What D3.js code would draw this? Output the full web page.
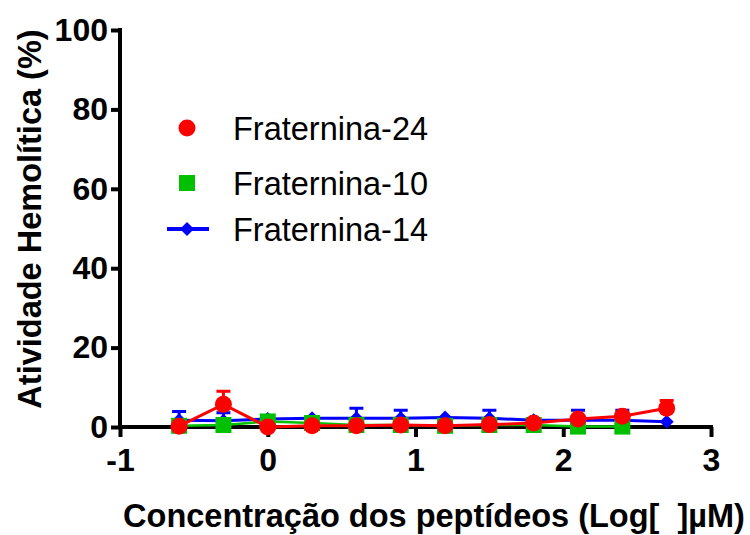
<!DOCTYPE html>
<html>
<head>
<meta charset="utf-8">
<script src="https://cdn.jsdelivr.net/npm/d3@7"></script>
<style>
  body { margin: 0; background: #fff; }
  svg { font-family: "Liberation Sans", Arial, sans-serif; }
</style>
</head>
<body>
<div id="chart"></div>
<script>
// Data (x = log10 concentration)
const doses = [-0.6, -0.3, 0, 0.3, 0.6, 0.9, 1.2, 1.5, 1.8, 2.1, 2.4, 2.7];

const frat24 = [0.2, 5.7, 0, 0.3, 0.3, 0.5, 0.3, 0.6, 1.0, 2.0, 2.7, 4.7];
const frat24Err = [0, 3.3, 0, 0, 0, 0, 0, 0, 0, 0, 0, 2.0];

const frat10 = [0.3, 0.5, 1.4, 1.0, 0.5, 0.5, 0.3, 0.5, 0.5, 0.1, 0.1];
const frat10Err = [0, 0, 0, 0, 0, 0, 0, 0, 0, 0, 0];

const frat14 = [1.7, 1.6, 2.0, 2.2, 2.2, 2.2, 2.4, 2.2, 1.7, 1.7, 1.7, 1.3];
const frat14Err = [2.2, 2.0, 0.8, 0, 2.5, 2.0, 0, 2.0, 0, 2.5, 2.5, 0];

const xTicks = [-1, 0, 1, 2, 3];
const yTicks = [0, 20, 40, 60, 80, 100];

const width = 750, height = 535;

const svg = d3.select('#chart')
    .append('svg')
    .attr('width', width)
    .attr('height', height);

const x = d3.scaleLinear().domain([-1, 3]).range([120, 711]);
const y = d3.scaleLinear().domain([0, 100]).range([427, 30]);

const colors = { f24: '#ff0000', f10: '#00c000', f14: '#0000ff' };

// Axes
const yAxis = svg.append('g')
    .attr('transform', `translate(${x(-1)},0)`)
    .call(d3.axisLeft(y).tickValues(yTicks).tickSize(9).tickPadding(3).tickSizeOuter(0)
        .tickFormat(d => String(d)));

const xAxis = svg.append('g')
    .attr('transform', `translate(0,${y(0)})`)
    .call(d3.axisBottom(x).tickValues(xTicks).tickSize(10).tickPadding(10).tickSizeOuter(0)
        .tickFormat(d => String(d)));

[xAxis, yAxis].forEach(a => {
    a.select('.domain').attr('stroke', '#000').attr('stroke-width', 4);
    a.selectAll('.tick line').attr('stroke', '#000').attr('stroke-width', 4);
    a.selectAll('.tick text')
        .attr('fill', '#000')
        .style('font-size', '32px')
        .style('font-weight', 'bold');
});
yAxis.select('.domain').attr('d', `M0,${y(0) + 2}V${y(100) - 2}`);
xAxis.select('.domain').attr('d', `M${x(-1) - 2},0H${x(3) + 2}`);
xAxis.selectAll('.tick text').attr('dy', '0.75em');

// Axis titles
svg.append('text')
    .attr('transform', `translate(41, 219) rotate(-90)`)
    .attr('text-anchor', 'middle')
    .style('font-size', '32.5px')
    .style('font-weight', 'bold')
    .text('Atividade Hemolítica (%)');

svg.append('text')
    .attr('x', 434)
    .attr('y', 527)
    .attr('text-anchor', 'middle')
    .style('font-size', '32.5px')
    .style('font-weight', 'bold')
    .style('white-space', 'pre')
    .text('Concentração dos peptídeos (Log[  ]µM)');

// Series drawing helper
function drawSeries(values, errs, color, lineWidth, symbol) {
    const pts = values.map((v, i) => ({ x: doses[i], y: v, e: errs[i] }));
    const line = d3.line().x(d => x(d.x)).y(d => y(d.y));
    const g = svg.append('g');

    g.selectAll('.err')
        .data(pts.filter(d => d.e > 0))
        .enter()
        .append('path')
        .attr('d', d => {
            const cx = x(d.x), top = y(d.y + d.e);
            return `M${cx},${y(d.y)}V${top}M${cx - 7},${top}H${cx + 7}`;
        })
        .attr('stroke', color)
        .attr('stroke-width', 3)
        .attr('fill', 'none');

    g.append('path')
        .datum(pts)
        .attr('d', line)
        .attr('fill', 'none')
        .attr('stroke', color)
        .attr('stroke-width', lineWidth);

    g.selectAll('.pt')
        .data(pts)
        .enter()
        .append('path')
        .attr('transform', d => `translate(${x(d.x)},${y(d.y)})`)
        .attr('d', symbol)
        .attr('fill', color);
}

const circleSym = d3.symbol().type(d3.symbolCircle).size(Math.PI * 8.5 * 8.5)();
const squareSym = d3.symbol().type(d3.symbolSquare).size(16 * 16)();
const diamondSym = 'M0,-7L7,0L0,7L-7,0Z';

drawSeries(frat14, frat14Err, colors.f14, 3, diamondSym);
drawSeries(frat10, frat10Err, colors.f10, 2.5, squareSym);
drawSeries(frat24, frat24Err, colors.f24, 3, circleSym);

// Legend
const legendItems = [
    { label: 'Fraternina-24', color: colors.f24, sym: circleSym, line: false },
    { label: 'Fraternina-10', color: colors.f10, sym: squareSym, line: false },
    { label: 'Fraternina-14', color: colors.f14, sym: diamondSym, line: true }
];
const legendY = [128, 183, 229];

legendItems.forEach((item, i) => {
    const ly = legendY[i];
    if (item.line) {
        svg.append('line')
            .attr('x1', 167).attr('x2', 209)
            .attr('y1', ly).attr('y2', ly)
            .attr('stroke', item.color)
            .attr('stroke-width', 4);
    }
    svg.append('path')
        .attr('transform', `translate(187,${ly})`)
        .attr('d', item.sym)
        .attr('fill', item.color);
    svg.append('text')
        .attr('x', 233)
        .attr('y', ly)
        .attr('dy', '0.36em')
        .style('font-size', '32.5px')
        .text(item.label);
});
</script>
</body>
</html>
